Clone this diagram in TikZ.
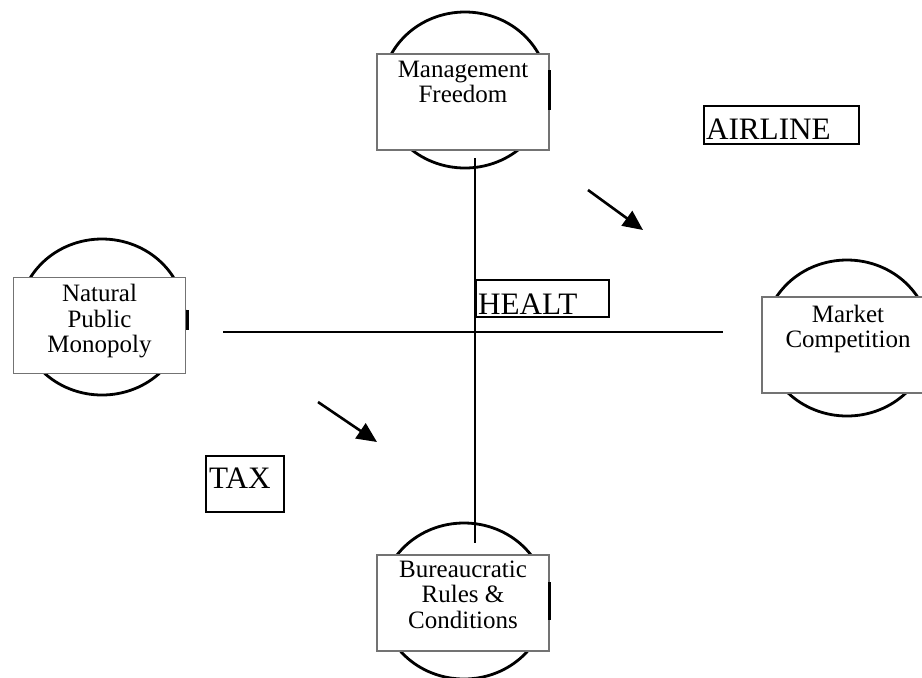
\documentclass[tikz,border=0pt]{standalone}
\usepackage{fontspec}
\setmainfont{Liberation Serif}
\usetikzlibrary{shapes.geometric,arrows.meta}

\begin{document}
\begin{tikzpicture}[x=0.5pt, y=-0.5pt,
    ring/.style={ellipse, draw, line width=1.4pt, minimum width=83pt, minimum height=78pt, inner sep=0pt},
    card/.style={rectangle, draw=black!55, line width=0.6pt, fill=white, minimum width=86pt, minimum height=48pt, inner sep=0pt},
    cardtext/.style={anchor=north, align=center, inner sep=0pt, font=\fontsize{12.5}{12.8}\selectfont},
    tag/.style={rectangle, draw, line width=1pt, anchor=north west, align=left, text depth=0pt, font=\fontsize{15.6}{18}\selectfont},
    axis/.style={line width=1pt},
    nub/.style={line width=1.5pt},
    pointer/.style={-{Triangle[length=10pt, width=9pt]}, line width=1.3pt}]
        \clip (0,0) rectangle (922,677);

        % Management Freedom (top)
        \node[ring] (mfring) at (465,90) {};
        \node[card] (mf) at (463,102) {};
        \node[cardtext] (mftext) at ([yshift=-3.5pt]mf.north) {Management\\Freedom};
        \draw[nub] (549,70) -- (549,110);

        % Natural Public Monopoly (left)
        \node[ring] (npring) at (102,317) {};
        \node[card] (np) at (99.5,325.5) {};
        \node[cardtext] (nptext) at ([yshift=-3.5pt]np.north) {Natural\\Public\\Monopoly};
        \draw[nub] (187,310) -- (187,330);

        % Market Competition (right)
        \node[ring] (mcring) at (847,338) {};
        \node[card] (mc) at (848,345) {};
        \node[cardtext] (mctext) at ([yshift=-4pt]mc.north) {Market\\Competition};

        % Bureaucratic Rules & Conditions (bottom)
        \node[ring] (brring) at (464,601) {};
        \node[card] (br) at (463,603) {};
        \node[cardtext] (brtext) at ([yshift=-3pt]br.north) {Bureaucratic\\Rules \&\\Conditions};
        \draw[nub] (549,582) -- (549,620);

        % Axes
        \coordinate (vtop) at (475,158);
        \coordinate (vbot) at (475,543);
        \coordinate (hleft) at (223,332);
        \coordinate (hright) at (723,332);
        \draw[axis] (vtop) -- (vbot);
        \draw[axis] (hleft) -- (hright);

        % Sector tags
        \node[tag, inner xsep=1pt, inner ysep=1.5pt, text width=64.5pt, text height=15.5pt] (healt) at (475,279) {HEALT};
        \node[tag, inner xsep=1pt, inner ysep=2.5pt, text width=75.5pt, text height=14pt] (airline) at (703,105) {AIRLINE};
        \node[tag, inner xsep=1.5pt, inner ysep=1.5pt, text width=36pt, text height=14.5pt, text depth=10.5pt] (tax) at (205,455) {TAX};

        % Arrows
        \coordinate (lowstart) at (318,402);
        \coordinate (lowend) at (377,442);
        \coordinate (upstart) at (588,190);
        \coordinate (upend) at (643,230);
        \draw[pointer] (lowstart) -- (lowend);
        \draw[pointer] (upstart) -- (upend);
\end{tikzpicture}
\end{document}
